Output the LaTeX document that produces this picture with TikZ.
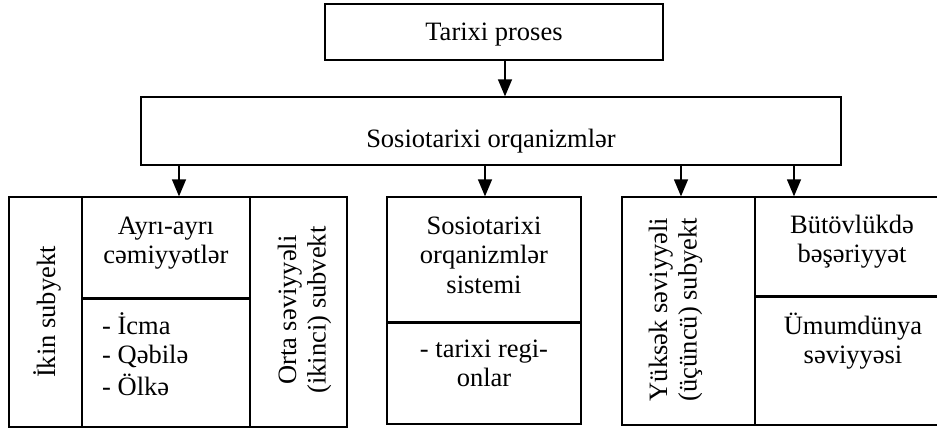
\documentclass[tikz,border=0pt]{standalone}
\usepackage{fontspec}
\setmainfont{Liberation Serif}
\usetikzlibrary{arrows.meta}
\begin{document}
\begin{tikzpicture}[x=1pt,y=-1pt,
  box/.style={draw, line width=1.3pt, rectangle, inner sep=0pt},
  divider/.style={line width=2.2pt},
  arr/.style={line width=1.3pt, -{Triangle[length=17pt,width=14pt]}},
  txt/.style={inner sep=0pt, font=\fontsize{26.5}{29.5}\selectfont, align=center},
]
\useasboundingbox (0,0) rectangle (937,429);
% boxes
\node[box, minimum width=338pt, minimum height=56pt] (top) at (494,32) {};
\node[box, minimum width=700pt, minimum height=68pt] (socio) at (491,131) {};
\node[box, minimum width=73pt, minimum height=230pt] (ikin) at (45.5,312) {};
\node[box, minimum width=168pt, minimum height=101pt] (ayri) at (166,247.5) {};
\node[box, minimum width=168pt, minimum height=129pt] (list) at (166,362.5) {};
\node[box, minimum width=97pt, minimum height=230pt] (orta) at (298.5,312) {};
\node[box, minimum width=194pt, minimum height=125pt] (sys) at (484,259.5) {};
\node[box, minimum width=194pt, minimum height=102pt] (reg) at (484,373) {};
\node[box, minimum width=133pt, minimum height=228pt] (yuk) at (688.5,311) {};
\node[box, minimum width=195pt, minimum height=99pt] (but) at (852.5,246.5) {};
\node[box, minimum width=195pt, minimum height=129pt] (umu) at (852.5,360.5) {};
% thicker dividers
\draw[divider] (ayri.south west) -- (ayri.south east);
\draw[divider] (sys.south west) -- (sys.south east);
\draw[divider] (but.south west) -- (but.south east);
% texts
\node[txt, anchor=base] (t0) at (494,40) {Tarixi proses};
\node[txt, anchor=base] (t1) at (491,147) {Sosiotarixi orqanizmlər};
\node[txt, anchor=north] (t2) at (166,213.35) {\strut Ayrı-ayrı\\\strut cəmiyyətlər};
\node[txt, anchor=north west, align=left] (t3) at (102,312.35) {\strut - İcma\\\strut - Qəbilə\\\strut - Ölkə};
\node[txt, anchor=north] (t4) at (484,213.35) {\strut Sosiotarixi\\\strut orqanizmlər\\\strut sistemi};
\node[txt, anchor=north] (t5) at (484,336.35) {\strut - tarixi regi-\\\strut onlar};
\node[txt, anchor=north] (t6) at (852,212.35) {\strut Bütövlükdə\\\strut bəşəriyyət};
\node[txt, anchor=north] (t7) at (853,312.35) {\strut Ümumdünya\\\strut səviyyəsi};
\node[txt, rotate=90, anchor=base] (t8) at (55,312) {İkin subyekt};
\node[txt, rotate=90] (t9) at (305,310) {\strut Orta səviyyəli\\\strut (ikinci) subvekt};
\node[txt, rotate=90] (t10) at (676,309.5) {\strut Yüksək səviyyəli\\\strut (üçüncü) subyekt};
% arrows
\coordinate (c0) at (505,0);
\coordinate (c1) at (179,0);
\coordinate (c2) at (485,0);
\coordinate (c3) at (681,0);
\coordinate (c4) at (794,0);
\draw[arr] (top.south -| c0) -- (socio.north -| c0);
\draw[arr] (socio.south -| c1) -- (ayri.north -| c1);
\draw[arr] (socio.south -| c2) -- (sys.north -| c2);
\draw[arr] (socio.south -| c3) -- (yuk.north -| c3);
\draw[arr] (socio.south -| c4) -- (but.north -| c4);
\end{tikzpicture}
\end{document}
